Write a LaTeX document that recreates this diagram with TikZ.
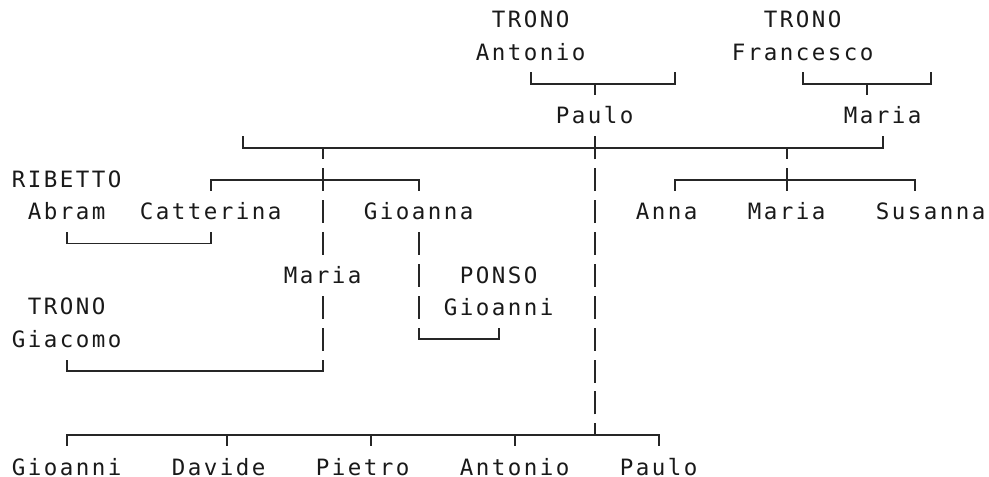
\documentclass[tikz,border=0pt]{standalone}
\usepackage{fontspec}
\newfontfamily\treefont[LetterSpace=10.9]{DejaVu Sans Mono}
\usetikzlibrary{positioning}
\begin{document}
\begin{tikzpicture}[
    x=16pt, y=-31.9pt,
    person/.style={font={\treefont\fontsize{22.5pt}{31.9pt}\selectfont}, text=black!90,
        inner sep=0pt, minimum height=31.9pt, text height=16.2pt, text depth=0pt},
    lastrow/.style={person, minimum height=0pt, text height=24.05pt, anchor=north},
    hline/.style={line width=1.9pt, black!85, line cap=rect},
    vline/.style={line width=1.9pt, black!85, dash pattern=on 23pt off 8.9pt, dash phase=11.5pt}
]
    \useasboundingbox (-0.669,-0.133) rectangle (61.144,14.82);

    % Grandparents
    \node[person] (antonio) at (32.5,1.5) {Antonio};
    \node[person, above=0pt of antonio] (antonioS) {TRONO};
    \node[person] (francesco) at (49.5,1.5) {Francesco};
    \node[person, above=0pt of francesco] (francescoS) {TRONO};

    % Parents
    \node[person] (paulo) at (36.5,3.5) {Paulo};
    \node[person] (mariaT) at (54.5,3.5) {Maria};

    % Children and spouses
    \node[person] (abram) at (3.5,6.5) {Abram};
    \node[person, above=0pt of abram] (abramS) {RIBETTO};
    \node[person] (catterina) at (12.5,6.5) {Catterina};
    \node[person] (gioanna) at (25.5,6.5) {Gioanna};
    \node[person] (anna) at (41,6.5) {Anna};
    \node[person] (mariaB) at (48.5,6.5) {Maria};
    \node[person] (susanna) at (57.5,6.5) {Susanna};
    \node[person] (mariaP) at (19.5,8.5) {Maria};
    \node[person] (gioanniP) at (30.5,9.5) {Gioanni};
    \node[person, above=0pt of gioanniP] (gioanniS) {PONSO};
    \node[person] (giacomo) at (3.5,10.5) {Giacomo};
    \node[person, above=0pt of giacomo] (giacomoS) {TRONO};

    % Bottom row
    \node[lastrow] (gioanni) at (3.5,14) {Gioanni};
    \node[lastrow] (davide) at (13,14) {Davide};
    \node[lastrow] (pietro) at (22,14) {Pietro};
    \node[lastrow] (antonioB) at (31.5,14) {Antonio};
    \node[lastrow] (pauloB) at (40.5,14) {Paulo};

    % Antonio
    \coordinate (a1) at (32.5,2.5);
    \coordinate (a2) at (41.5,2.5);
    \coordinate (a2top) at (41.5,2);
    \coordinate (a3) at (36.5,2.5);
    \draw[hline] (a1) -- (a2);
    \draw[vline] (a1) -- (antonio.south);
    \draw[vline] (a2) -- (a2top);
    \draw[vline] (a3) -- (paulo.north);

    % Francesco
    \coordinate (f1) at (49.5,2.5);
    \coordinate (f2) at (57.5,2.5);
    \coordinate (f2top) at (57.5,2);
    \coordinate (f3) at (53.5,2.5);
    \draw[hline] (f1) -- (f2);
    \draw[vline] (f1) -- (francesco.south);
    \draw[vline] (f2) -- (f2top);
    \draw[vline] (f3) -- (f3 |- mariaT.north);

    % Paulo
    \coordinate (p1) at (14.5,4.5);
    \coordinate (p1top) at (14.5,4);
    \coordinate (p2) at (19.5,4.5);
    \coordinate (p3) at (36.5,4.5);
    \coordinate (p4) at (48.5,4.5);
    \coordinate (p5) at (54.5,4.5);
    \draw[hline] (p1) -- (p5);
    \draw[vline] (p1) -- (p1top);
    \draw[vline] (p3) -- (paulo.south);
    \draw[vline] (p5) -- (mariaT.south);
    \draw[vline] (p2) -- (mariaP.north);
    \draw[vline] (p4) -- (mariaB.north);

    \coordinate (c1) at (12.5,5.5);
    \coordinate (c2) at (25.5,5.5);
    \draw[hline] (c1) -- (c2);
    \draw[vline] (c1) -- (catterina.north);
    \draw[vline] (c2) -- (gioanna.north);

    \coordinate (s1) at (41.5,5.5);
    \coordinate (s2) at (56.5,5.5);
    \draw[hline] (s1) -- (s2);
    \draw[vline] (s1) -- (s1 |- anna.north);
    \draw[vline] (s2) -- (s2 |- susanna.north);

    % Marriages
    \coordinate (r1) at (3.5,7.5);
    \coordinate (r2) at (12.5,7.5);
    \draw[hline] (r1) -- (r2);
    \draw[vline] (r1) -- (abram.south);
    \draw[vline] (r2) -- (catterina.south);

    \coordinate (g1) at (25.5,10.5);
    \coordinate (g2) at (30.5,10.5);
    \draw[hline] (g1) -- (g2);
    \draw[vline] (g1) -- (gioanna.south);
    \draw[vline] (g2) -- (gioanniP.south);

    \coordinate (t1) at (3.5,11.5);
    \coordinate (t2) at (19.5,11.5);
    \draw[hline] (t1) -- (t2);
    \draw[vline] (t1) -- (giacomo.south);
    \draw[vline] (t2) -- (mariaP.south);

    % Paulo's children
    \coordinate (k1) at (3.5,13.5);
    \coordinate (k2) at (13.5,13.5);
    \coordinate (k3) at (22.5,13.5);
    \coordinate (k4) at (31.5,13.5);
    \coordinate (k5) at (36.5,13.5);
    \coordinate (k6) at (40.5,13.5);
    \draw[hline] (k1) -- (k6);
    \draw[vline] (k5) -- (p3);
    \draw[vline] (k1) -- (gioanni.north);
    \draw[vline] (k2) -- (k2 |- davide.north);
    \draw[vline] (k3) -- (k3 |- pietro.north);
    \draw[vline] (k4) -- (antonioB.north);
    \draw[vline] (k6) -- (pauloB.north);
\end{tikzpicture}
\end{document}
